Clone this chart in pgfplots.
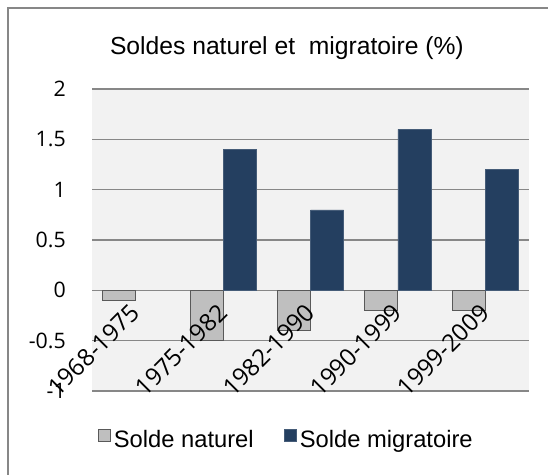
\documentclass[border=0pt]{standalone}
\usepackage{fontspec}
\setmainfont{Liberation Sans}
\newfontfamily\tickfont{Open Sans}
\usepackage{pgfplots}
\pgfplotsset{compat=1.18}
\definecolor{natfill}{HTML}{BFBFBF}
\definecolor{natdraw}{HTML}{595959}
\definecolor{migfill}{HTML}{243F60}
\definecolor{gridc}{HTML}{878787}
\definecolor{bgc}{HTML}{F2F2F2}
% like layers/standard, but tick labels drawn above the bars
\pgfplotsset{
  layers/labelstop/.define layer set={axis background,axis grid,axis ticks,
    axis lines,pre main,main,axis tick labels,axis descriptions,axis foreground}{
    grid style={/pgfplots/on layer=axis grid},
    tick style={/pgfplots/on layer=axis ticks},
    axis line style={/pgfplots/on layer=axis lines},
    label style={/pgfplots/on layer=axis descriptions},
    legend style={/pgfplots/on layer=axis descriptions},
    title style={/pgfplots/on layer=axis descriptions},
    ticklabel style={/pgfplots/on layer=axis tick labels},
    axis background@ style={/pgfplots/on layer=axis background},
    3d box foreground style={/pgfplots/on layer=axis foreground},
  },
}
\begin{document}
\begin{tikzpicture}
\begin{axis}[
  set layers=labelstop,
  at={(0,0)}, anchor=south west,
  scale only axis, width=327.75pt, height=226.5pt,
  ybar=0pt, bar width=24.75pt,
  xmin=-0.5, xmax=4.5, ymin=-1, ymax=2,
  axis x line*=middle, axis y line*=left,
  axis line style={draw=none},
  axis background/.style={fill=bgc},
  ytick={-1,-0.5,0,0.5,1,1.5,2},
  yticklabels={-1,-0.5,0,0.5,1,1.5,2},
  xtick={0,...,4},
  xticklabels={1968-1975,1975-1982,1982-1990,1990-1999,1999-2009},
  major tick length=0pt,
  ymajorgrids, grid style={gridc, line width=0.9pt},
  yticklabel style={font=\tickfont\fontsize{16}{19}\selectfont, inner sep=0pt, xshift=-19.5pt},
  xticklabel style={font=\tickfont\fontsize{18}{21}\selectfont, inner sep=0pt,
    xshift=-5pt, rotate=45, anchor=north east},
  xticklabel shift=8.5pt,
  title={Soldes naturel et~ migratoire (\%)},
  title style={font=\fontsize{18.5}{22}\selectfont, at={(0.446,1.109)}, anchor=center},
  legend columns=2,
  legend style={at={(0.446,-0.162)}, anchor=center, draw=none, fill=none,
    font=\fontsize{17.8}{21}\selectfont,
    /tikz/every even column/.append style={column sep=21pt}},
  every axis plot post/.append style={
    legend image code/.code={\draw[##1, line width=0.6pt] (0pt,-1pt) rectangle (9pt,8pt);}},
]
\addplot[fill=natfill, draw=natdraw, line width=0.75pt] coordinates {
 (0,-0.1) (1,-0.5) (2,-0.4) (3,-0.2) (4,-0.2)};
\addplot[fill=migfill, draw=migfill!85!white, line width=0.4pt] coordinates {
 (1,1.4) (2,0.8) (3,1.6) (4,1.2)};
\legend{Solde naturel, Solde migratoire}
\end{axis}
\pgfresetboundingbox
\useasboundingbox (-69pt,-62.25pt) rectangle (342pt,293.25pt);
\draw[gridc, line width=0.9pt] (-63pt,-80pt) rectangle (360pt,287.25pt);
\end{tikzpicture}
\end{document}
